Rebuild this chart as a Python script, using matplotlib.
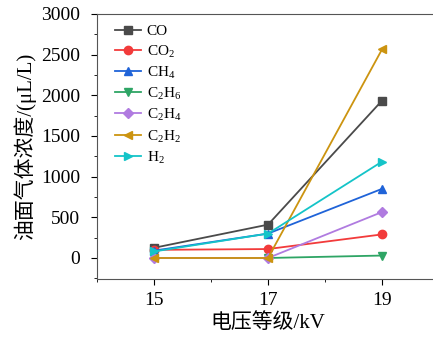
import matplotlib
matplotlib.use("Agg")
import matplotlib.pyplot as plt
from matplotlib.ticker import MultipleLocator

plt.rcParams['font.family'] = ['Liberation Serif', 'Noto Sans CJK SC']
plt.rcParams['mathtext.fontset'] = 'custom'
plt.rcParams['mathtext.rm'] = 'Liberation Serif'

voltage = [15, 17, 19]
co = [125, 410, 1935]
co2 = [100, 110, 290]
ch4 = [90, 300, 850]
c2h6 = [0, 0, 30]
c2h4 = [0, 0, 565]
c2h2 = [0, 0, 2565]
h2 = [80, 300, 1185]

series = [
    ("CO", co, "#4a4a4a", "s"),
    ("CO$_2$", co2, "#f23b3b", "o"),
    ("CH$_4$", ch4, "#1f63d8", "^"),
    ("C$_2$H$_6$", c2h6, "#2ea565", "v"),
    ("C$_2$H$_4$", c2h4, "#b07be0", "D"),
    ("C$_2$H$_2$", c2h2, "#cc9410", "<"),
    ("H$_2$", h2, "#14c4c8", ">"),
]

fig = plt.figure(figsize=(4.33, 3.4), dpi=100)
ax = fig.add_axes([0.224, 0.179, 0.79, 0.780])
for name, vals, c, m in series:
    ms = 5 if m == "D" else 6
    ax.plot(voltage, vals, color=c, marker=m, markersize=ms, linewidth=1.3, label=name)

ax.set_xlim(14, 20)
ax.set_ylim(-260, 3000)
ax.set_xticks(voltage)
ax.xaxis.set_minor_locator(MultipleLocator(1))
ax.yaxis.set_major_locator(MultipleLocator(500))
ax.yaxis.set_minor_locator(MultipleLocator(250))
ax.tick_params(which='both', direction='out', labelsize=14)
ax.tick_params(axis='y', which='major', length=4, pad=8)
ax.tick_params(axis='x', which='major', length=4, pad=5)
ax.tick_params(which='minor', length=2)
for s in ax.spines.values():
    s.set_color('#555555')
ax.spines['right'].set_visible(False)
ax.set_xlabel("电压等级/kV", fontsize=15, labelpad=3)
ax.set_ylabel("油面气体浓度/(μL/L)", fontsize=15, labelpad=4)
ax.legend(loc='upper left', frameon=False, fontsize=11, handlelength=1.7,
          labelspacing=0.3, borderaxespad=0.3, handletextpad=0.4,
          bbox_to_anchor=(0.02, 1.0))
fig.savefig("out.png", dpi=100)
